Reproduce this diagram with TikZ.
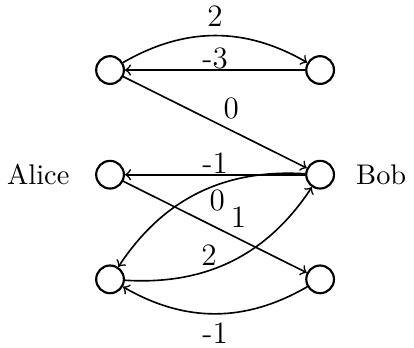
\documentclass[tikz,border=0pt]{standalone}
\usetikzlibrary{positioning}
\tikzset{
  vtx/.style={circle,draw,line width=0.8pt,minimum size=0.36cm,inner sep=0pt},
  edge/.style={->,line width=0.6pt},
  wt/.style={font=\fontsize{11.5}{14}\selectfont},
  who/.style={font=\fontsize{10.5}{13}\selectfont},
}
\begin{document}
\begin{tikzpicture}[line cap=round,line join=round]
  \useasboundingbox (-1.43,-2.25) rectangle (3.95,2.27);
  \node[vtx] (a1) at (0,1.36) {};
  \node[vtx] (b1) at (2.73,1.36) {};
  \node[vtx] (alice) at (0,0) {};
  \node[vtx] (bob) at (2.73,0) {};
  \node[vtx] (a3) at (0,-1.36) {};
  \node[vtx] (b3) at (2.73,-1.36) {};
  \node[who,left=0.21cm of alice] (aname) {Alice};
  \node[who,right=0.15cm of bob] (bname) {Bob};
  \draw[edge] (a1) to[bend left=30] node[wt,above,inner sep=3pt] {2} (b1);
  \draw[edge] (b1) -- node[wt,above,inner sep=0pt] {-3} (a1);
  \draw[edge] (a1) -- node[wt,pos=0.52,above right,inner sep=1.5pt] {0} (bob);
  \draw[edge] (bob) -- node[wt,above,inner sep=0pt] {-1} (alice);
  \draw[edge] (bob) to[bend right=30] node[wt,pos=0.4,below,inner sep=1.5pt] {0} (a3);
  \draw[edge] (alice) -- node[wt,pos=0.56,above right,inner sep=1.5pt] {1} (b3);
  \draw[edge] (a3) to[bend right=30] node[wt,pos=0.38,above,inner sep=1.5pt] {2} (bob);
  \draw[edge] (b3) to[bend left=30] node[wt,below,inner sep=3pt] {-1} (a3);
\end{tikzpicture}
\end{document}
